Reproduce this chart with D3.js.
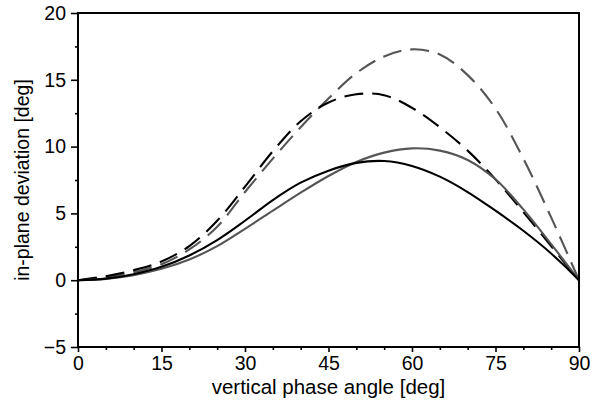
<!DOCTYPE html>
<html>
<head>
<meta charset="utf-8">
<script src="https://cdn.jsdelivr.net/npm/d3@7"></script>
<style>
  html, body { margin: 0; padding: 0; background: #fff; }
  svg { display: block; }
  text { font-family: "Liberation Sans", Arial, sans-serif; fill: #000; }
</style>
</head>
<body>
<svg id="chart" width="603" height="404"></svg>
<script>
// ---- data ----
const angles = [0, 5, 10, 15, 20, 25, 30, 35, 40, 45, 50, 55, 60, 65, 70, 75, 80, 85, 90];
const blackSolid  = [0, 0.12, 0.45, 1.0, 1.85, 3.0, 4.45, 6.0, 7.3, 8.2, 8.78, 8.92, 8.55, 7.75, 6.6, 5.2, 3.7, 2.0, 0];
const graySolid   = [0, 0.1, 0.38, 0.85, 1.55, 2.55, 3.85, 5.2, 6.55, 7.8, 8.85, 9.55, 9.87, 9.7, 9.0, 7.55, 5.3, 2.7, 0];
const blackDashed = [0, 0.3, 0.75, 1.4, 2.55, 4.45, 7.0, 9.65, 11.9, 13.3, 13.92, 13.85, 12.9, 11.45, 9.7, 7.55, 5.1, 2.55, 0];
const grayDashed  = [0, 0.2, 0.6, 1.2, 2.3, 4.0, 6.6, 9.1, 11.45, 13.6, 15.5, 16.75, 17.28, 16.9, 15.35, 12.85, 9.1, 4.7, 0];
const xTicks = [0, 15, 30, 45, 60, 75, 90];
const xMinorTicks = [5, 10, 20, 25, 35, 40, 50, 55, 65, 70, 80, 85];
const yTicks = [-5, 0, 5, 10, 15, 20];
const yMinorTicks = [-2.5, 2.5, 7.5, 12.5, 17.5];
const xTitle = "vertical phase angle [deg]";
const yTitle = "in-plane deviation [deg]";

const series = [
  { values: grayDashed,  color: "#555555", dash: "19,9" },
  { values: blackDashed, color: "#000000", dash: "19,9" },
  { values: graySolid,   color: "#555555", dash: null },
  { values: blackSolid,  color: "#000000", dash: null }
];

// ---- layout ----
const mLeft = 78, mRight = 579, mTop = 13, mBottom = 347;
const svg = d3.select("#chart");
const x = d3.scaleLinear().domain([0, 90]).range([mLeft, mRight]);
const y = d3.scaleLinear().domain([-5, 20]).range([mBottom, mTop]);

// curves
const line = d3.line()
  .x((d, i) => x(angles[i]))
  .y(d => y(d))
  .curve(d3.curveCatmullRom.alpha(0.5));

svg.append("clipPath").attr("id", "clip")
  .append("rect").attr("x", mLeft).attr("y", mTop).attr("width", mRight - mLeft).attr("height", mBottom - mTop);

const lines = svg.append("g").attr("clip-path", "url(#clip)");
series.forEach(s => {
  lines.append("path")
    .datum(s.values)
    .attr("d", line)
    .attr("fill", "none")
    .attr("stroke", s.color)
    .attr("stroke-width", 2.1)
    .attr("stroke-dasharray", s.dash)
    .attr("stroke-linecap", "butt");
});

// axes
const fs = 19.5;
const xAxis = d3.axisBottom(x).tickValues(xTicks).tickSize(5).tickPadding(4).tickFormat(d3.format("d"));
const xAxisMinor = d3.axisBottom(x).tickValues(xMinorTicks).tickSize(3).tickFormat("");
const yAxis = d3.axisLeft(y).tickValues(yTicks).tickSize(7).tickPadding(5).tickFormat(d3.format("d"));
const yAxisMinor = d3.axisLeft(y).tickValues(yMinorTicks).tickSize(3).tickFormat("");

function styleAxis(g) {
  g.select(".domain").remove();
  g.selectAll(".tick line").attr("stroke", "#000").attr("stroke-width", 1.6);
  g.selectAll(".tick text").attr("font-size", fs).attr("font-family", "Liberation Sans, Arial, sans-serif").attr("fill", "#000");
}

svg.append("g").attr("transform", `translate(0,${mBottom})`).call(xAxis).call(styleAxis);
svg.append("g").attr("transform", `translate(0,${mBottom})`).call(xAxisMinor).call(styleAxis);
svg.append("g").attr("transform", `translate(${mLeft},0)`).call(yAxis).call(styleAxis);
svg.append("g").attr("transform", `translate(${mLeft},0)`).call(yAxisMinor).call(styleAxis);

// frame
svg.append("rect")
  .attr("x", mLeft).attr("y", mTop)
  .attr("width", mRight - mLeft).attr("height", mBottom - mTop)
  .attr("fill", "none").attr("stroke", "#000").attr("stroke-width", 2);

// titles
svg.append("text")
  .attr("x", (mLeft + mRight) / 2).attr("y", 394)
  .attr("text-anchor", "middle")
  .attr("font-size", 20.5)
  .text(xTitle);

svg.append("text")
  .attr("transform", `translate(29,${(mTop + mBottom) / 2}) rotate(-90)`)
  .attr("text-anchor", "middle")
  .attr("font-size", 19.5)
  .text(yTitle);
</script>
</body>
</html>
